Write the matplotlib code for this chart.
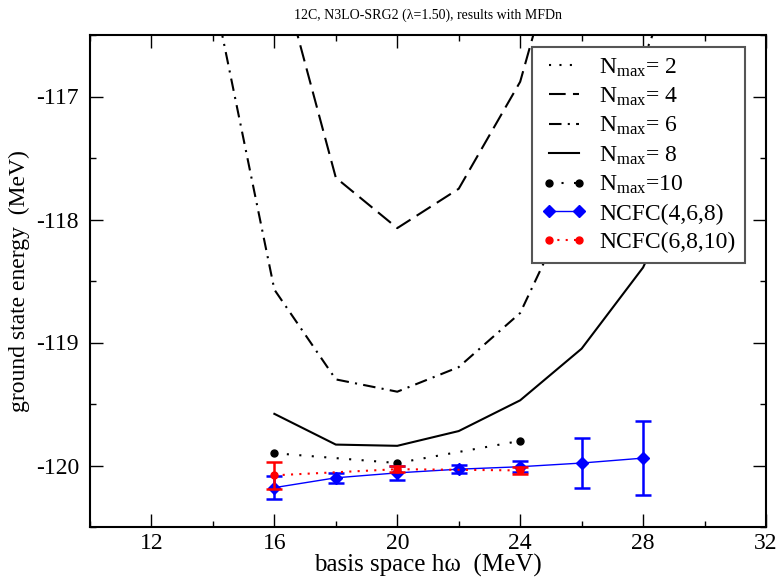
import matplotlib
matplotlib.use("Agg")
import matplotlib.pyplot as plt

plt.rcParams['font.family'] = ['Liberation Serif', 'DejaVu Serif']
plt.rcParams['mathtext.fontset'] = 'custom'
plt.rcParams['mathtext.rm'] = 'Liberation Serif'
plt.rcParams['mathtext.it'] = 'Liberation Serif:italic'
plt.rcParams['axes.unicode_minus'] = False

# basis space h-omega (MeV) and ground state energies (MeV)
nmax2_hw = [16, 20, 24, 28, 32]
nmax2_e = [-108.5, -112.6, -114.3, -115.0, -114.9]

nmax4_hw = [14, 16, 18, 20, 22, 24, 26, 28]
nmax4_e = [-113.5, -115.8, -117.66, -118.07, -117.75, -116.88, -115.1, -113.0]

nmax6_hw = [12, 14, 16, 18, 20, 22, 24, 26, 28, 30]
nmax6_e = [-113.0, -116.13, -118.57, -119.3, -119.4, -119.2, -118.76, -117.7, -116.7, -115.4]

nmax8_hw = [16, 18, 20, 22, 24, 26, 28, 30]
nmax8_e = [-119.58, -119.83, -119.84, -119.72, -119.47, -119.05, -118.39, -117.3]

nmax10_hw = [16, 20, 24]
nmax10_e = [-119.9, -119.98, -119.8]

ncfc468_hw = [16, 18, 20, 22, 24, 26, 28]
ncfc468_e = [-120.18, -120.10, -120.06, -120.03, -120.01, -119.98, -119.94]
ncfc468_err = [0.095, 0.04, 0.057, 0.033, 0.045, 0.2, 0.3]

ncfc6810_hw = [16, 20, 24]
ncfc6810_e = [-120.08, -120.03, -120.04]
ncfc6810_err = [0.11, 0.025, 0.03]

fig = plt.figure(figsize=(7.78, 5.8), dpi=100)
ax = fig.add_axes([90 / 778, 1 - 527 / 580, 676 / 778, 492 / 580])

ax.plot(nmax2_hw, nmax2_e, color='black', lw=1.5, ls=(0, (1, 4)), label=r'N$_{\rm max}$= 2')
ax.plot(nmax4_hw, nmax4_e, color='black', lw=1.5, ls=(0, (8, 3.5)), label=r'N$_{\rm max}$= 4')
ax.plot(nmax6_hw, nmax6_e, color='black', lw=1.5, ls=(0, (6, 3, 1, 3)), label=r'N$_{\rm max}$= 6')
ax.plot(nmax8_hw, nmax8_e, color='black', lw=1.5, ls='-', label=r'N$_{\rm max}$= 8')
ax.plot(nmax10_hw, nmax10_e, color='black', lw=1.5, ls=(0, (1, 5)), marker='o', ms=5,
        label=r'N$_{\rm max}$=10')

# NCFC extrapolations with uncertainty bars
ax.errorbar(ncfc468_hw, ncfc468_e, yerr=ncfc468_err, fmt='none', ecolor='blue',
            elinewidth=1.8, capsize=6, capthick=1.8, zorder=3)
ax.plot(ncfc468_hw, ncfc468_e, color='blue', lw=1, marker='D', ms=6.5, zorder=4,
        label='NCFC(4,6,8)')
ax.errorbar(ncfc6810_hw, ncfc6810_e, yerr=ncfc6810_err, fmt='none', ecolor='red',
            elinewidth=1.8, capsize=6, capthick=1.8, zorder=5)
ax.plot(ncfc6810_hw, ncfc6810_e, color='red', lw=1.5, ls=(0, (1, 3)), marker='o', ms=5,
        zorder=6, label='NCFC(6,8,10)')

ax.set_xlim(10, 32)
ax.set_ylim(-120.5, -116.5)
ax.set_xticks([12, 16, 20, 24, 28, 32])
ax.set_xticks([10, 14, 18, 22, 26, 30], minor=True)
ax.set_yticks([-120, -119, -118, -117])
ax.set_yticks([-120.5, -119.5, -118.5, -117.5, -116.5], minor=True)
ax.tick_params(which='both', direction='in', top=True, right=True, labelsize=17, width=1)
ax.tick_params(which='major', length=9.5)
ax.tick_params(which='minor', length=4.5)
ax.tick_params(axis='x', which='major', pad=4)
ax.tick_params(axis='y', which='major', pad=8)
for s in ax.spines.values():
    s.set_linewidth(1.5)

ax.set_xlabel('basis space hω  (MeV)', fontsize=18, labelpad=0)
ax.set_ylabel('ground state energy  (MeV)', fontsize=17, labelpad=4)
ax.set_title('12C, N3LO-SRG2 (λ=1.50), results with MFDn', fontsize=10, pad=12)

leg = ax.legend(loc='upper right', bbox_to_anchor=(0.969, 0.976), fontsize=17,
                frameon=True, fancybox=False, framealpha=1, edgecolor='#555555',
                borderaxespad=0, handlelength=1.9, handletextpad=0.55,
                labelspacing=0.3, borderpad=0.4, numpoints=2)
leg.get_frame().set_linewidth(1.5)

fig.savefig('out.png', dpi=100)
